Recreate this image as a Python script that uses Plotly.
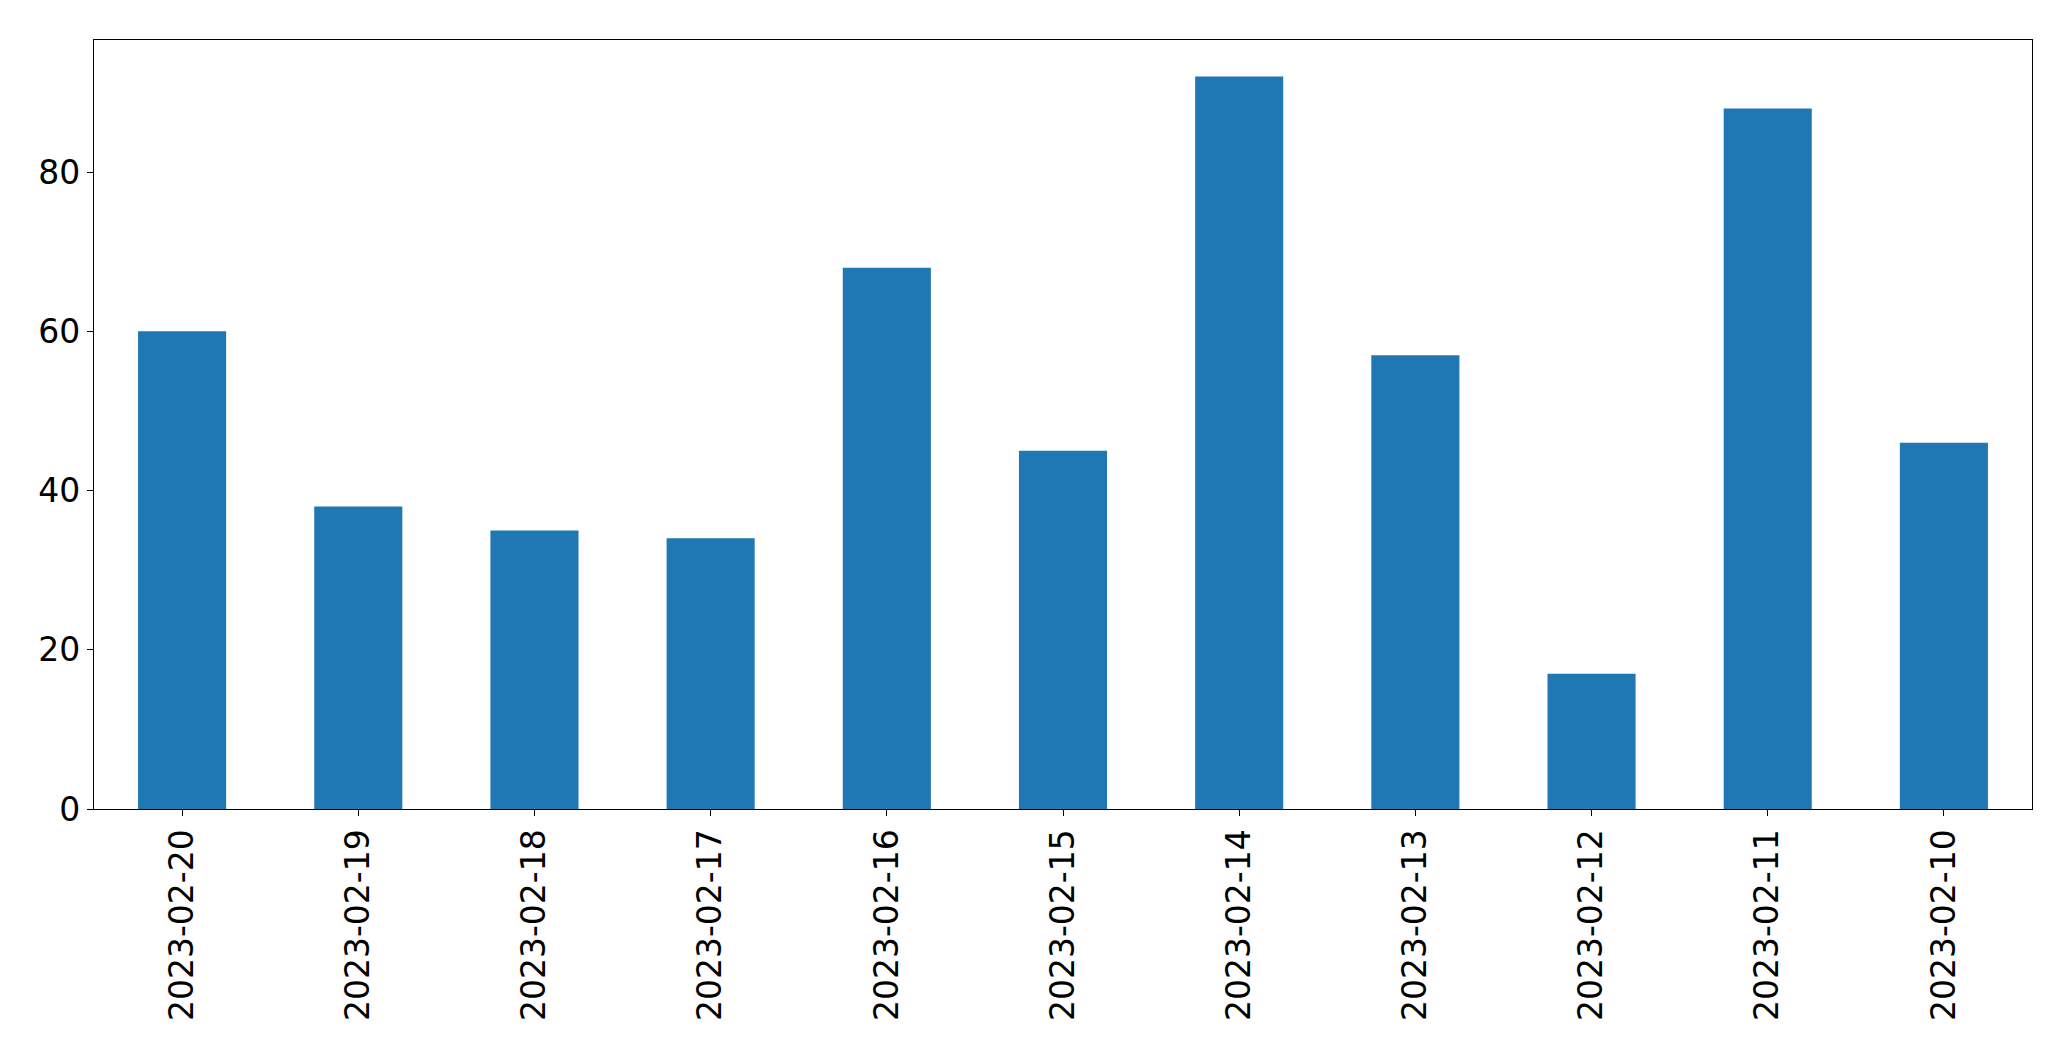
import plotly.graph_objects as go

dates = ["2023-02-20", "2023-02-19", "2023-02-18", "2023-02-17", "2023-02-16",
         "2023-02-15", "2023-02-14", "2023-02-13", "2023-02-12", "2023-02-11",
         "2023-02-10"]
values = [60, 38, 35, 34, 68, 45, 92, 57, 17, 88, 46]
y_ticks = [0, 20, 40, 60, 80]

fig = go.Figure(go.Bar(x=dates, y=values, marker_color="#1f77b4",
                       marker_line_width=0, width=0.5))

font = dict(family="DejaVu Sans", size=33, color="black")
fig.update_layout(
    width=2071, height=1061,
    margin=dict(l=94, r=39, t=40, b=252, pad=0),
    plot_bgcolor="white", paper_bgcolor="white",
    showlegend=False, bargap=0.5,
    font=font,
)
fig.update_xaxes(type="category", range=[-0.5, len(dates) - 0.5],
                 tickangle=-90, showline=True, mirror=True, linecolor="black",
                 linewidth=1.2, ticks="outside", ticklen=6, tickwidth=1.2,
                 tickcolor="black", showgrid=False, tickfont=font)
fig.update_yaxes(range=[0, max(values) * 1.05], tickvals=y_ticks,
                 showline=True, mirror=True, linecolor="black", linewidth=1.2,
                 ticks="outside", ticklen=6, tickwidth=1.2, tickcolor="black",
                 showgrid=False, zeroline=False, tickfont=font)

fig.write_html("out.html", config={"displayModeBar": False},
               post_script="document.body.style.margin='0';")
